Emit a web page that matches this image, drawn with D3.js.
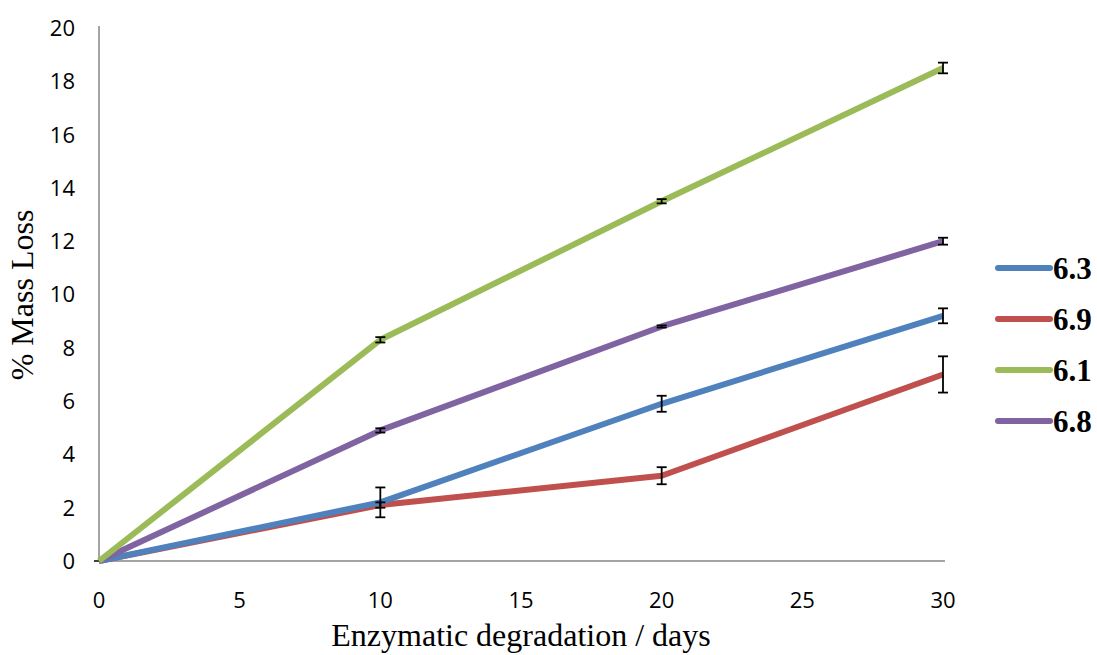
<!DOCTYPE html>
<html><head><meta charset="utf-8">
<script src="https://cdn.jsdelivr.net/npm/d3@7"></script>
<style>body{margin:0;background:#fff}svg{display:block}</style>
</head><body>
<svg id="c" width="1097" height="655"></svg>
<script>
const days = [0, 10, 20, 30];
const seriesNames = ["6.3", "6.9", "6.1", "6.8"];
const colors = ["#4F81BD", "#C0504D", "#9BBB59", "#8064A2"];
const v63 = [0, 2.2, 5.9, 9.2];
const v69 = [0, 2.1, 3.2, 7.0];
const v61 = [0, 8.3, 13.5, 18.5];
const v68 = [0, 4.9, 8.8, 12.0];
const e63 = [0, 0.56, 0.3, 0.28];
const e69 = [0, 0.1, 0.32, 0.68];
const e61 = [0, 0.1, 0.08, 0.2];
const e68 = [0, 0.08, 0.04, 0.13];
const xTicks = [0, 5, 10, 15, 20, 25, 30];
const yTicks = [0, 2, 4, 6, 8, 10, 12, 14, 16, 18, 20];

const values = [v63, v69, v61, v68];
const errs = [e63, e69, e61, e68];

const svg = d3.select("#c");
const x = d3.scaleLinear().domain([0, 30]).range([99, 943]);
const y = d3.scaleLinear().domain([0, 20]).range([561, 28]);

// axes lines
svg.append("line").attr("x1", x(0)).attr("x2", x(0)).attr("y1", y(20) - 2).attr("y2", y(0))
  .attr("stroke", "#868686").attr("stroke-width", 1.5);
svg.append("line").attr("x1", x(0)).attr("x2", x(30) + 2).attr("y1", y(0)).attr("y2", y(0))
  .attr("stroke", "#868686").attr("stroke-width", 1.5);
svg.append("line").attr("x1", x(0) - 5).attr("x2", x(0)).attr("y1", y(0)).attr("y2", y(0))
  .attr("stroke", "#000").attr("stroke-width", 1.5);

const tickFont = "'Open Sans', 'Liberation Sans', sans-serif";
svg.append("g").selectAll("text").data(yTicks).join("text")
  .attr("x", 75).attr("y", d => y(d)).attr("dy", "0.36em")
  .attr("text-anchor", "end").attr("font-family", tickFont).attr("font-size", 22)
  .attr("fill", "#000").text(d => d);
svg.append("g").selectAll("text").data(xTicks).join("text")
  .attr("x", d => x(d)).attr("y", 600).attr("dy", "0.36em")
  .attr("text-anchor", "middle").attr("font-family", tickFont).attr("font-size", 22)
  .attr("fill", "#000").text(d => d);

// titles
const serif = "'Liberation Serif', 'Times New Roman', serif";
svg.append("text").attr("x", 521).attr("y", 646).attr("text-anchor", "middle")
  .attr("font-family", serif).attr("font-size", 32)
  .text("Enzymatic degradation / days");
svg.append("text").attr("transform", "translate(33,295) rotate(-90)").attr("text-anchor", "middle")
  .attr("font-family", serif).attr("font-size", 32)
  .text("% Mass Loss");

// lines
const line = d3.line().x((d, i) => x(days[i])).y(d => y(d));
const drawOrder = [1, 0, 3, 2];
drawOrder.forEach(k => {
  svg.append("path").datum(values[k]).attr("d", line).attr("fill", "none")
    .attr("stroke", colors[k]).attr("stroke-width", 6).attr("stroke-linejoin", "round");
});

// error bars
values.forEach((vals, k) => {
  const g = svg.append("g").attr("stroke", "#000").attr("stroke-width", 1.8);
  days.forEach((d, i) => {
    const e = errs[k][i];
    if (!e) return;
    const cx = x(d), top = y(vals[i] + e), bot = y(vals[i] - e);
    g.append("line").attr("x1", cx).attr("x2", cx).attr("y1", top).attr("y2", bot);
    g.append("line").attr("x1", cx - 5).attr("x2", cx + 5).attr("y1", top).attr("y2", top);
    g.append("line").attr("x1", cx - 5).attr("x2", cx + 5).attr("y1", bot).attr("y2", bot);
  });
});

// legend
const lg = svg.append("g");
seriesNames.forEach((n, i) => {
  const yy = 268 + i * 51;
  lg.append("line").attr("x1", 998).attr("x2", 1050).attr("y1", yy).attr("y2", yy)
    .attr("stroke", colors[i]).attr("stroke-width", 6).attr("stroke-linecap", "round");
  lg.append("text").attr("x", 1053).attr("y", yy).attr("dy", "0.35em")
    .attr("font-family", serif).attr("font-weight", "bold")
    .attr("font-size", 31).text(n);
});
</script>
</body></html>
